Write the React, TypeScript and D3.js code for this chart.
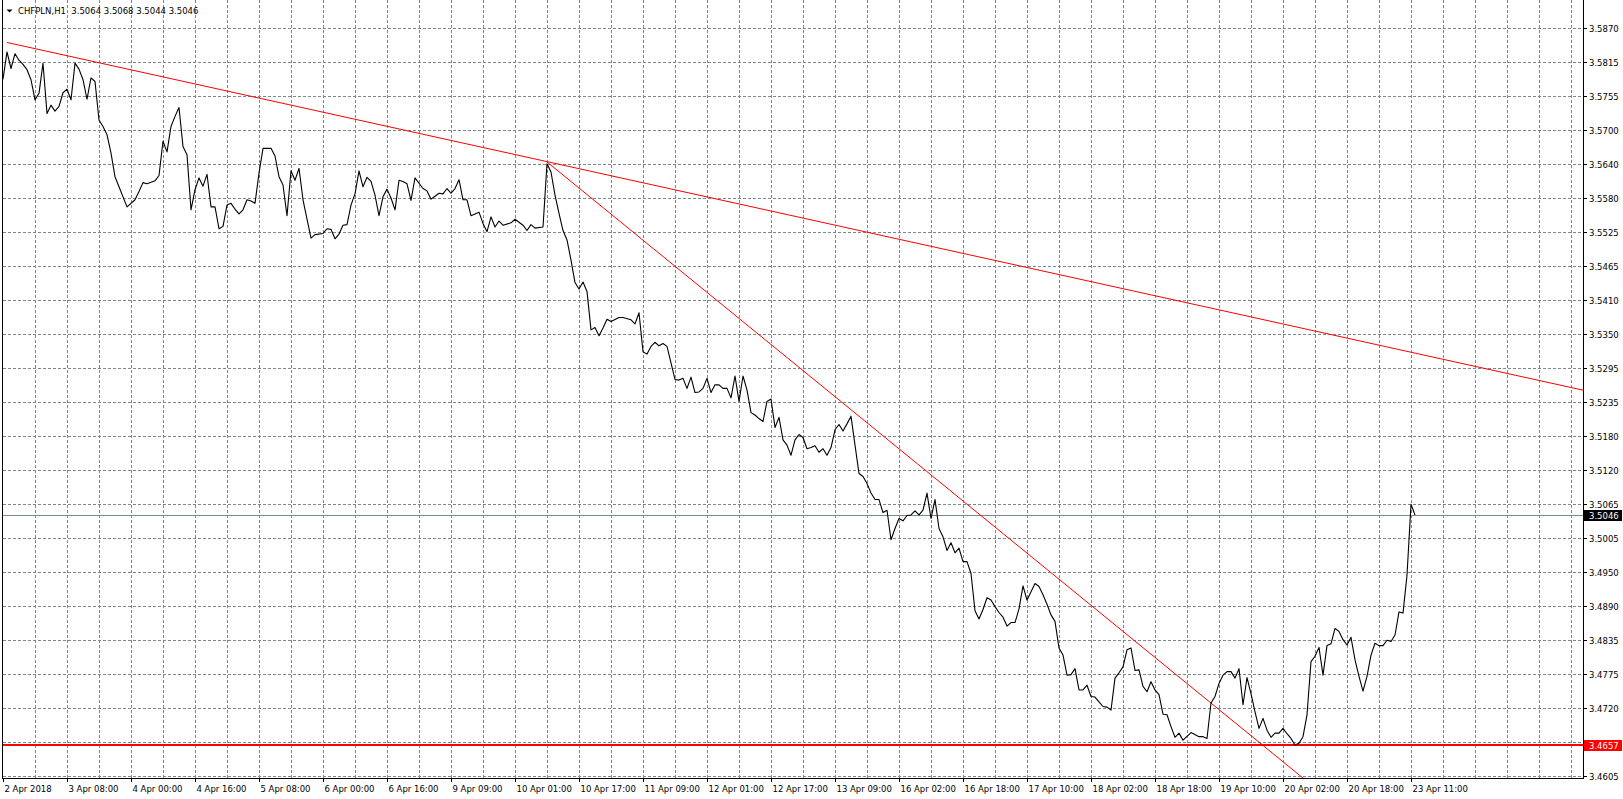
import { useEffect, useRef } from 'react';
import * as d3 from 'd3';

const chartTitle = 'CHFPLN,H1  3.5064 3.5068 3.5044 3.5046';

// one label every 16 H1 bars, starting at bar 0
const timeLabels = [
  '2 Apr 2018', '3 Apr 08:00', '4 Apr 00:00', '4 Apr 16:00', '5 Apr 08:00', '6 Apr 00:00',
  '6 Apr 16:00', '9 Apr 09:00', '10 Apr 01:00', '10 Apr 17:00', '11 Apr 09:00', '12 Apr 01:00',
  '12 Apr 17:00', '13 Apr 09:00', '16 Apr 02:00', '16 Apr 18:00', '17 Apr 10:00', '18 Apr 02:00',
  '18 Apr 18:00', '19 Apr 10:00', '20 Apr 02:00', '20 Apr 18:00', '23 Apr 11:00',
];

// price grid, bottom to top
const priceLabels = [
  '3.4605', '3.4660', '3.4720', '3.4775', '3.4835', '3.4890', '3.4950', '3.5005', '3.5065',
  '3.5120', '3.5180', '3.5235', '3.5295', '3.5350', '3.5410', '3.5465', '3.5525', '3.5580',
  '3.5640', '3.5700', '3.5755', '3.5815', '3.5870',
];
const gridBase = 3.4605;
const gridStep = 0.00575;

// [bar index, close]
const hourlyClose: [number, number][] = [
  [0, 3.5783], [1, 3.5829], [2, 3.5801], [3, 3.5826], [4, 3.5815], [5, 3.5808], [6, 3.5799], [7, 3.5782],
  [8, 3.5748], [9, 3.5759], [10, 3.581], [11, 3.5725], [12, 3.5739], [13, 3.5729], [14, 3.5737], [15, 3.576],
  [16, 3.5766], [17, 3.5748], [18, 3.581], [19, 3.58], [20, 3.5782], [21, 3.5749], [22, 3.5785], [23, 3.5779],
  [24, 3.5714], [25, 3.5703], [26, 3.5689], [27, 3.5658], [28, 3.5618], [29, 3.5601], [31, 3.5567], [33, 3.5579],
  [34, 3.5593], [35, 3.5608], [36, 3.5606], [38, 3.5611], [39, 3.562], [40, 3.5678], [41, 3.566], [42, 3.5703],
  [43, 3.572], [44, 3.5735], [45, 3.5669], [46, 3.5655], [47, 3.5562], [48, 3.5596], [49, 3.5616], [50, 3.5602],
  [51, 3.5622], [52, 3.5567], [53, 3.5567], [54, 3.553], [55, 3.5534], [56, 3.557], [57, 3.5573],
  [58, 3.5563], [59, 3.5555], [60, 3.5562], [61, 3.5579], [62, 3.5577], [63, 3.5573], [64, 3.5624], [65, 3.5666],
  [67, 3.5666], [68, 3.5653], [69, 3.5618], [70, 3.5604], [71, 3.5552], [72, 3.5628], [73, 3.5612], [74, 3.5632],
  [75, 3.5579], [77, 3.5514], [78, 3.552], [80, 3.5522], [81, 3.553], [82, 3.5529], [83, 3.5513], [84, 3.5521],
  [85, 3.5536], [86, 3.5537], [87, 3.557], [88, 3.5589], [89, 3.5628], [90, 3.5601], [91, 3.5617], [92, 3.561],
  [93, 3.5587], [94, 3.5552], [95, 3.5584], [96, 3.5597], [97, 3.5582], [98, 3.5562], [99, 3.5612], [100, 3.561],
  [101, 3.5606], [102, 3.5578], [103, 3.5616], [104, 3.5607], [105, 3.5598], [106, 3.5594], [107, 3.558], [108, 3.5585],
  [109, 3.559], [110, 3.5589], [111, 3.5598], [112, 3.559], [113, 3.5598], [114, 3.5613], [115, 3.5579], [116, 3.5579],
  [117, 3.5552], [118, 3.5555], [119, 3.5558], [120, 3.5539], [121, 3.5525], [122, 3.555], [123, 3.5533], [124, 3.5543],
  [125, 3.5536], [127, 3.554], [128, 3.5546], [130, 3.5536], [131, 3.5527], [132, 3.5537], [133, 3.5531], [135, 3.5533],
  [136, 3.564], [137, 3.5626], [138, 3.5587], [139, 3.5556], [140, 3.5527], [141, 3.5511], [142, 3.5477], [143, 3.5439],
  [144, 3.5428], [145, 3.544], [146, 3.5424], [147, 3.5359], [148, 3.5363], [149, 3.5349], [150, 3.5362], [151, 3.5377],
  [152, 3.5373], [154, 3.538], [155, 3.538], [157, 3.5376], [158, 3.5369], [159, 3.5388], [160, 3.5322], [161, 3.5318],
  [162, 3.5331], [163, 3.5338], [164, 3.5332], [165, 3.5336], [166, 3.5331], [167, 3.5303], [168, 3.5275], [169, 3.5274],
  [170, 3.5277], [171, 3.526], [172, 3.5279], [173, 3.5253], [174, 3.5254], [175, 3.526], [176, 3.5277], [177, 3.5253],
  [178, 3.5266], [179, 3.5266], [180, 3.526], [181, 3.526], [182, 3.5244], [183, 3.5281], [184, 3.5238], [185, 3.5281],
  [186, 3.5257], [187, 3.5219], [188, 3.5215], [189, 3.5209], [190, 3.5204], [191, 3.5238], [192, 3.5242], [193, 3.5194],
  [194, 3.5211], [195, 3.5173], [196, 3.5164], [197, 3.5147], [198, 3.5173], [199, 3.5182], [200, 3.5177], [201, 3.5158],
  [202, 3.516], [203, 3.5163], [204, 3.5152], [205, 3.5158], [206, 3.5147], [207, 3.516], [208, 3.519], [209, 3.5199],
  [210, 3.5188], [211, 3.52], [212, 3.5213], [213, 3.5164], [214, 3.5116], [215, 3.5111], [216, 3.5099], [217, 3.5083],
  [218, 3.5072], [219, 3.5072], [220, 3.505], [221, 3.5054], [222, 3.5004], [223, 3.5023], [224, 3.504], [225, 3.5036],
  [226, 3.5045], [227, 3.5046], [228, 3.5053], [229, 3.5046], [230, 3.5054], [231, 3.5083], [232, 3.504], [233, 3.5072],
  [234, 3.5023], [235, 3.5009], [236, 3.4986], [237, 3.4999], [238, 3.4982], [239, 3.499], [240, 3.4967], [241, 3.4967],
  [242, 3.4947], [243, 3.4884], [244, 3.487], [245, 3.4886], [246, 3.4906], [247, 3.4902], [248, 3.4891], [249, 3.4881],
  [250, 3.4873], [251, 3.4858], [252, 3.4864], [253, 3.4864], [254, 3.4887], [255, 3.4926], [256, 3.4902], [257, 3.4916],
  [258, 3.493], [259, 3.4925], [260, 3.4911], [261, 3.4895], [262, 3.4877], [263, 3.4866], [264, 3.4821], [265, 3.4809],
  [266, 3.4775], [267, 3.4776], [268, 3.4786], [269, 3.475], [270, 3.475], [271, 3.4758], [272, 3.4739], [273, 3.4738],
  [274, 3.473], [275, 3.4722], [276, 3.4721], [277, 3.4716], [278, 3.477], [279, 3.4779], [280, 3.4789], [281, 3.4818],
  [282, 3.4821], [283, 3.4783], [284, 3.4784], [285, 3.4756], [286, 3.4747], [287, 3.4764], [288, 3.475], [289, 3.4742],
  [290, 3.4709], [291, 3.4708], [292, 3.4688], [293, 3.467], [294, 3.4677], [295, 3.4665], [297, 3.4678], [299, 3.4671],
  [300, 3.4671], [301, 3.4668], [302, 3.4728], [303, 3.4739], [304, 3.4761], [305, 3.4775], [306, 3.4781], [307, 3.4781],
  [308, 3.477], [309, 3.4786], [310, 3.4725], [311, 3.4771], [312, 3.4744], [313, 3.4713], [314, 3.4685], [315, 3.4702],
  [316, 3.4682], [317, 3.467], [318, 3.4677], [319, 3.4677], [320, 3.4685], [321, 3.4676], [322, 3.4668], [323, 3.4657],
  [324, 3.466], [325, 3.4671], [326, 3.4708], [327, 3.4798], [328, 3.4807], [329, 3.4822], [330, 3.4775], [331, 3.4825],
  [332, 3.4828], [333, 3.4854], [334, 3.4849], [335, 3.4835], [336, 3.4826], [337, 3.4839], [338, 3.4801], [339, 3.4773],
  [340, 3.4748], [341, 3.4773], [342, 3.4809], [343, 3.4829], [344, 3.4825], [345, 3.4825], [346, 3.4834], [347, 3.4832],
  [348, 3.4843], [349, 3.4882], [350, 3.488], [351, 3.4944], [352, 3.5064], [353, 3.5046],
];

// trend lines, [bar index, price] anchors
const upperTrend: [number, number][] = [[1, 3.5845], [395, 3.5257]];
const steepTrend: [number, number][] = [[136, 3.5643], [325, 3.4601]];
const supportLevel = 3.4657;
const bidPrice = 3.5046;

const visibleBars = 395;
const barsPerLabel = 16;
const barsPerGrid = 8;

export default function App() {
  const svgRef = useRef<SVGSVGElement>(null);

  useEffect(() => {
    document.body.style.margin = '0';
    if (!svgRef.current) return;
    const svg = d3.select(svgRef.current);
    svg.selectAll('*').remove();

    const left = 3;
    const right = 1583;
    const bottom = 778;
    const font = '"DejaVu Sans", sans-serif';
    const gridColor = '#778899';

    const x = d3.scaleLinear().domain([0, visibleBars]).range([left, right]);
    const y = d3.scaleLinear().domain([gridBase, gridBase + gridStep * (priceLabels.length - 1)]).range([775.7, 27.7]);
    const px = (v: number) => Math.round(v) + 0.5;

    svg.append('defs').append('clipPath').attr('id', 'plot')
      .append('rect').attr('x', left).attr('y', 0).attr('width', right - left).attr('height', bottom);

    // grid
    const grid = svg.append('g').attr('stroke', gridColor).attr('stroke-dasharray', '3,2')
      .attr('shape-rendering', 'crispEdges');
    grid.selectAll('.vg')
      .data(d3.range(barsPerGrid, visibleBars, barsPerGrid))
      .join('line')
      .attr('x1', d => px(x(d))).attr('x2', d => px(x(d)))
      .attr('y1', 0).attr('y2', bottom);
    grid.selectAll('.hg')
      .data(priceLabels.map((_, i) => gridBase + i * gridStep))
      .join('line')
      .attr('x1', left).attr('x2', right)
      .attr('y1', d => px(y(d))).attr('y2', d => px(y(d)));

    // bid line
    svg.append('line')
      .attr('x1', left).attr('x2', right)
      .attr('y1', px(y(bidPrice))).attr('y2', px(y(bidPrice)))
      .attr('stroke', gridColor).attr('shape-rendering', 'crispEdges');

    const plot = svg.append('g').attr('clip-path', 'url(#plot)');

    // support level
    plot.append('line')
      .attr('x1', left).attr('x2', right)
      .attr('y1', Math.round(y(supportLevel))).attr('y2', Math.round(y(supportLevel)))
      .attr('stroke', '#ff0000').attr('stroke-width', 2).attr('shape-rendering', 'crispEdges');

    const line = d3.line<[number, number]>().x(d => x(d[0])).y(d => y(d[1]));

    [upperTrend, steepTrend].forEach(t => {
      plot.append('path').datum(t)
        .attr('d', line).attr('fill', 'none').attr('stroke', '#ff0000').attr('stroke-width', 1);
    });

    plot.append('path').datum(hourlyClose)
      .attr('d', line).attr('fill', 'none').attr('stroke', '#000').attr('stroke-width', 1.1)
      .attr('stroke-linejoin', 'round');

    // frame
    const frame = svg.append('g').attr('stroke', '#000').attr('shape-rendering', 'crispEdges');
    frame.append('line').attr('x1', 2.5).attr('x2', 2.5).attr('y1', 0).attr('y2', bottom + 0.5);
    frame.append('line').attr('x1', right + 0.5).attr('x2', right + 0.5).attr('y1', 0).attr('y2', bottom + 0.5);
    frame.append('line').attr('x1', 2.5).attr('x2', right + 0.5).attr('y1', bottom + 0.5).attr('y2', bottom + 0.5);

    // price axis
    const yAxis = svg.append('g').attr('font-family', font).attr('font-size', 8.5);
    priceLabels.forEach((label, i) => {
      const yy = px(y(gridBase + i * gridStep));
      if (Math.abs(yy - y(supportLevel)) < 8) return;
      yAxis.append('line').attr('x1', right).attr('x2', right + 4).attr('y1', yy).attr('y2', yy)
        .attr('stroke', '#000').attr('shape-rendering', 'crispEdges');
      yAxis.append('text').attr('x', 1589).attr('y', yy + 3).text(label);
    });

    const priceBox = (value: number, fill: string) => {
      const yy = Math.round(y(value));
      yAxis.append('rect').attr('x', 1584).attr('y', yy - 5).attr('width', 38).attr('height', 11).attr('fill', fill);
      yAxis.append('text').attr('x', 1589).attr('y', yy + 3.5).attr('fill', '#fff').text(value.toFixed(4));
    };
    priceBox(bidPrice, '#000');
    priceBox(supportLevel, '#ff0000');

    // time axis
    const xAxis = svg.append('g').attr('font-family', font).attr('font-size', 8.5);
    timeLabels.forEach((label, i) => {
      const xx = px(x(i * barsPerLabel));
      xAxis.append('line').attr('x1', xx).attr('x2', xx).attr('y1', bottom).attr('y2', bottom + 4)
        .attr('stroke', '#000').attr('shape-rendering', 'crispEdges');
      xAxis.append('text').attr('x', xx + 1).attr('y', 792).text(label);
    });

    // header
    svg.append('path').attr('d', 'M6.5,9.5 L12.5,9.5 L9.5,12.5 Z').attr('fill', '#000');
    svg.append('text')
      .attr('x', 18).attr('y', 14)
      .attr('font-family', font).attr('font-size', 8.5)
      .style('white-space', 'pre')
      .text(chartTitle);
  }, []);

  return (
    <svg
      ref={svgRef}
      width={1623}
      height={799}
      style={{ display: 'block', background: '#fff' }}
    ></svg>
  );
}
